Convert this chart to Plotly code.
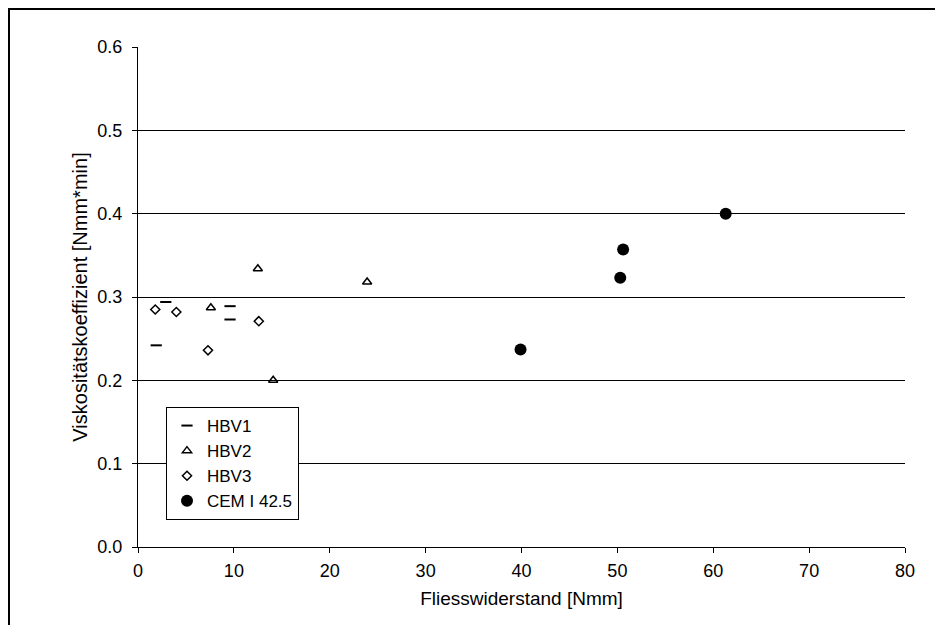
import plotly.graph_objects as go

# data
hbv1_x = [1.9, 2.9, 9.6, 9.6]
hbv1_y = [0.242, 0.294, 0.289, 0.273]
hbv2_x = [7.6, 12.5, 14.1, 23.9]
hbv2_y = [0.287, 0.334, 0.200, 0.318]
hbv3_x = [1.8, 4.0, 7.3, 12.6]
hbv3_y = [0.285, 0.282, 0.236, 0.271]
cem_x = [39.9, 50.3, 50.6, 61.3]
cem_y = [0.237, 0.323, 0.357, 0.400]

x_ticks = [0, 10, 20, 30, 40, 50, 60, 70, 80]
y_ticks = [0.0, 0.1, 0.2, 0.3, 0.4, 0.5, 0.6]

fig = go.Figure()

fig.add_trace(go.Scatter(
    x=hbv1_x, y=hbv1_y, mode="markers", name="HBV1",
    marker=dict(symbol="line-ew", size=8, color="black",
                line=dict(color="black", width=2)),
))
fig.add_trace(go.Scatter(
    x=hbv2_x, y=hbv2_y, mode="markers", name="HBV2",
    marker=dict(symbol="triangle-up-open", size=8, color="black",
                line=dict(color="black", width=1.5)),
))
fig.add_trace(go.Scatter(
    x=hbv3_x, y=hbv3_y, mode="markers", name="HBV3",
    marker=dict(symbol="diamond-open", size=7, color="black",
                line=dict(color="black", width=1.5)),
))
fig.add_trace(go.Scatter(
    x=cem_x, y=cem_y, mode="markers", name="CEM I 42.5",
    marker=dict(symbol="circle", size=12, color="black"),
))

# page body adds an 8px offset, so the figure is a bit smaller
W, H = 935, 617
L, R, T, B = 130, 38, 39, 78
pw, ph = W - L - R, H - T - B

fig.update_layout(
    width=W, height=H,
    margin=dict(l=L, r=R, t=T, b=B, autoexpand=False),
    paper_bgcolor="white", plot_bgcolor="white",
    font=dict(family="Liberation Sans, Arial, sans-serif", size=18, color="black"),
    showlegend=True,
    legend=dict(
        x=(166 - 138) / pw, y=(547 - 407) / ph, xanchor="left", yanchor="top",
        bgcolor="white", bordercolor="black", borderwidth=1,
        font=dict(size=17), itemsizing="trace", tracegroupgap=0,
        itemwidth=30,
    ),
    xaxis=dict(
        range=[0, 80], tickvals=x_ticks, ticks="outside", ticklen=5,
        tickcolor="black", showline=True, linecolor="black", linewidth=1,
        showgrid=False, zeroline=False, tickfont=dict(size=18),
        ticklabelstandoff=2,
        title=dict(text="Fliesswiderstand [Nmm]", standoff=12, font=dict(size=19)),
    ),
    yaxis=dict(
        range=[0, 0.6], tickvals=y_ticks, tickformat=".1f", ticks="outside",
        ticklen=5, tickcolor="black", showline=True, linecolor="black",
        linewidth=1, showgrid=True, gridcolor="black", gridwidth=1,
        zeroline=False, tickfont=dict(size=18), ticklabelstandoff=6,
        title=dict(text="Viskositätskoeffizient [Nmm*min]", standoff=4,
                   font=dict(size=20)),
    ),
    shapes=[dict(
        type="rect", xref="paper", yref="paper",
        x0=-(L - 1) / pw, x1=(W - L + 20) / pw, y0=-(B + 20) / ph, y1=1 + (T - 1) / ph,
        line=dict(color="black", width=2), fillcolor="rgba(0,0,0,0)",
    )],
)

fig.write_html("out.html")
